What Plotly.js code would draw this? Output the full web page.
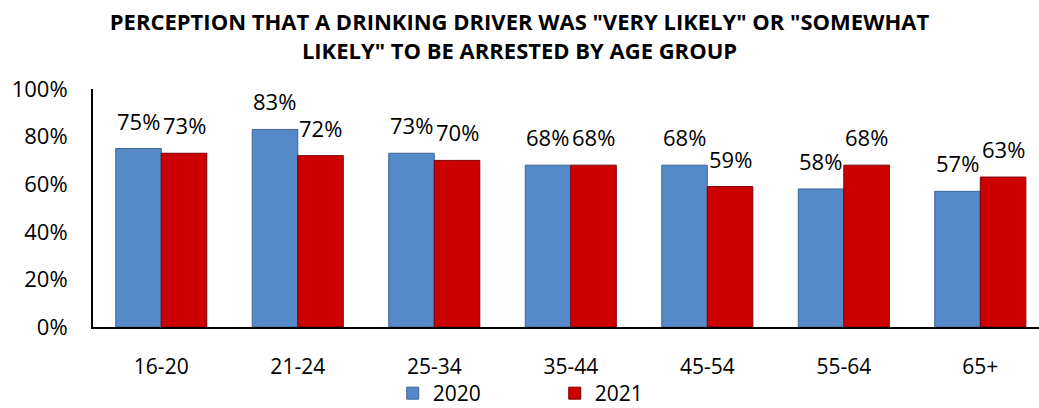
<!DOCTYPE html>
<html>
<head>
<meta charset="utf-8">
<script src="https://cdn.plot.ly/plotly-3.0.1.min.js"></script>
<style>
  html, body { margin: 0; padding: 0; background: #ffffff; }
  #chart { width: 1039px; height: 408px; }
</style>
</head>
<body>
<div id="chart"></div>
<script>
// Age groups on the category axis
const ageGroups = ['16-20', '21-24', '25-34', '35-44', '45-54', '55-64', '65+'];
// Share (%) saying an arrest was "very" or "somewhat" likely
const values2020 = [75, 83, 73, 68, 68, 58, 57];
const values2021 = [73, 72, 70, 68, 59, 68, 63];
const seriesNames = ['2020', '2021'];
const yTicks = [0, 20, 40, 60, 80, 100];
const yTickLabels = ['0%', '20%', '40%', '60%', '80%', '100%'];

const FONT = 'Open Sans, Lato, sans-serif';
const BLUE = '#5689c8';
const BLUE_EDGE = '#3d6596';
const RED = '#cc0000';
const RED_EDGE = '#7d0000';

const traces = [
  {
    type: 'bar', name: seriesNames[0], x: ageGroups, y: values2020,
    marker: { color: BLUE, line: { color: BLUE_EDGE, width: 1 } },
    hoverinfo: 'x+y'
  },
  {
    type: 'bar', name: seriesNames[1], x: ageGroups, y: values2021,
    marker: { color: RED, line: { color: RED_EDGE, width: 1 } },
    hoverinfo: 'x+y'
  }
];

// Value labels sit above each bar, nudged over their own bar in the group
const BAR_OFFSET = 23;
const annotations = [];
ageGroups.forEach((g, i) => {
  annotations.push({
    x: g, y: values2020[i], xref: 'x', yref: 'y',
    text: values2020[i] + '%', showarrow: false,
    xanchor: 'center', yanchor: 'bottom', xshift: -BAR_OFFSET, yshift: 11,
    font: { family: FONT, size: 22, color: '#000' }
  });
  annotations.push({
    x: g, y: values2021[i], xref: 'x', yref: 'y',
    text: values2021[i] + '%', showarrow: false,
    xanchor: 'center', yanchor: 'bottom', xshift: BAR_OFFSET, yshift: 11,
    font: { family: FONT, size: 22, color: '#000' }
  });
});

const layout = {
  width: 1039, height: 408,
  paper_bgcolor: '#ffffff', plot_bgcolor: '#ffffff',
  margin: { l: 93, r: 0, t: 89, b: 81, autoexpand: false },
  font: { family: FONT, color: '#000' },
  title: {
    text: 'PERCEPTION THAT A DRINKING DRIVER WAS "VERY LIKELY" OR "SOMEWHAT<br>LIKELY" TO BE ARRESTED BY AGE GROUP',
    font: { family: FONT, size: 22, weight: 'bold', color: '#000' },
    x: 0.5, xref: 'container', xanchor: 'center',
    y: 0.926, yref: 'container', yanchor: 'middle'
  },
  barmode: 'group',
  bargap: 0.333,
  bargroupgap: 0,
  xaxis: {
    type: 'category',
    range: [-0.5, 6.43],
    showline: true, linecolor: '#000', linewidth: 2,
    showgrid: false, zeroline: false, ticks: '',
    tickangle: 0,
    ticklabelstandoff: 20,
    tickfont: { family: FONT, size: 21, color: '#000' },
    fixedrange: true
  },
  yaxis: {
    range: [0, 100],
    tickvals: yTicks, ticktext: yTickLabels,
    showline: true, linecolor: '#000', linewidth: 2,
    showgrid: false, zeroline: false, ticks: '',
    ticklabelstandoff: 19,
    tickfont: { family: FONT, size: 22, color: '#000' },
    fixedrange: true
  },
  showlegend: true,
  legend: {
    orientation: 'h',
    xref: 'container', x: 0.378, xanchor: 'left',
    yref: 'container', y: 0.0858, yanchor: 'top',
    bgcolor: 'rgba(0,0,0,0)',
    font: { family: FONT, size: 21, color: '#000' },
    entrywidth: 117, itemwidth: 30,
    traceorder: 'normal'
  },
  annotations: annotations
};

Plotly.newPlot('chart', traces, layout, { displayModeBar: false, staticPlot: true });
</script>
</body>
</html>
